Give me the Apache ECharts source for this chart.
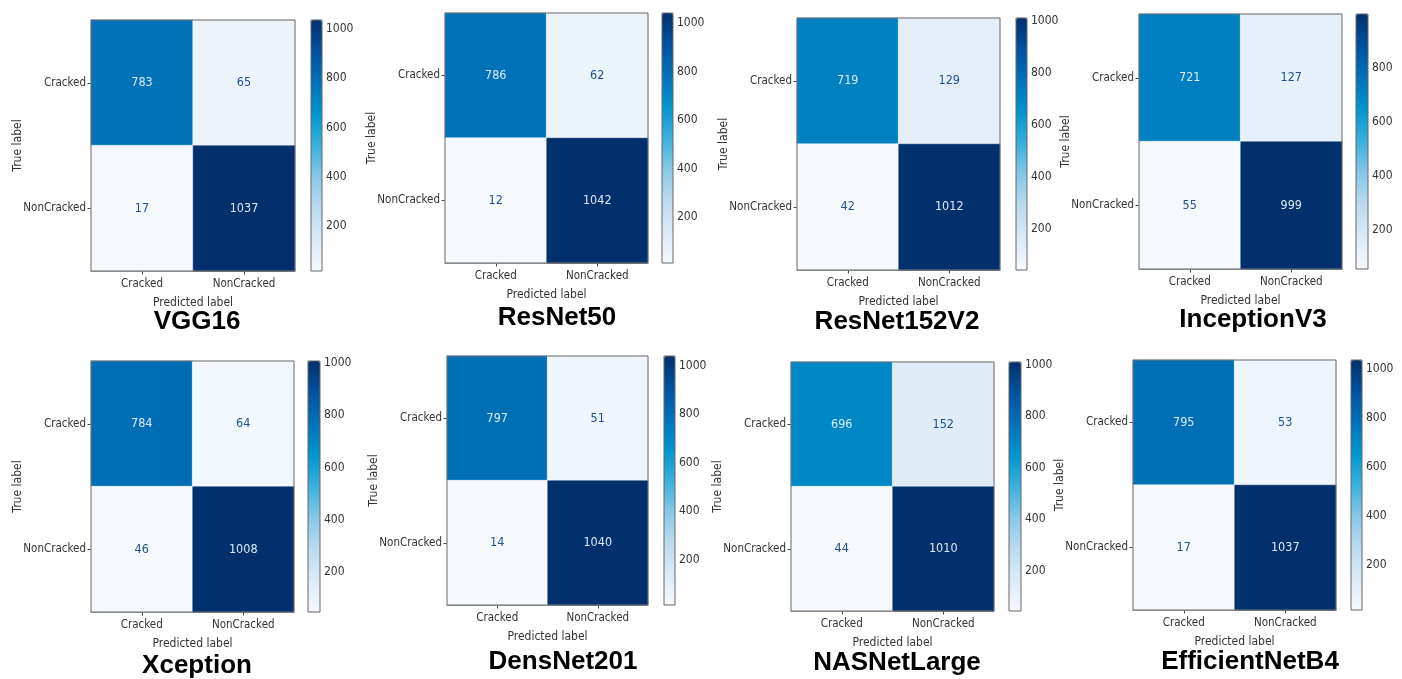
<!DOCTYPE html>
<html><head><meta charset="utf-8">
<script src="https://cdn.jsdelivr.net/npm/echarts@6/dist/echarts.min.js"></script>
<style>html,body{margin:0;padding:0;background:#fff}#c{width:1402px;height:679px}</style>
</head><body><div id="c"></div>
<script>
// ---------- data ----------
const categories = ['Cracked', 'NonCracked'];
const modelNames = ['VGG16', 'ResNet50', 'ResNet152V2', 'InceptionV3', 'Xception', 'DensNet201', 'NASNetLarge', 'EfficientNetB4'];
const vgg16 = [[783, 65], [17, 1037]];
const resnet50 = [[786, 62], [12, 1042]];
const resnet152v2 = [[719, 129], [42, 1012]];
const inceptionv3 = [[721, 127], [55, 999]];
const xception = [[784, 64], [46, 1008]];
const densnet201 = [[797, 51], [14, 1040]];
const nasnetlarge = [[696, 152], [44, 1010]];
const efficientnetb4 = [[795, 53], [17, 1037]];
const colorbarTicks = [200, 400, 600, 800, 1000];
const matrices = [vgg16, resnet50, resnet152v2, inceptionv3, xception, densnet201, nasnetlarge, efficientnetb4];

// ---------- layout (pixel boxes: left, top, right, bottom) ----------
const panels = [
  { m: [91, 20, 295, 271], cb: [311, 20, 322, 271], t: [197, 322] },
  { m: [445, 13, 648, 263], cb: [662, 13, 673, 263], t: [557, 318] },
  { m: [797, 18, 1000, 270], cb: [1016, 18, 1027, 270], t: [897, 322] },
  { m: [1139, 14, 1342, 269], cb: [1356, 14, 1368, 269], t: [1253, 320] },
  { m: [91, 361, 294, 612], cb: [308, 361, 320, 612], t: [197, 666] },
  { m: [447, 356, 648, 605], cb: [664, 356, 675, 605], t: [563, 662] },
  { m: [791, 362, 994, 611], cb: [1009, 362, 1021, 611], t: [897, 663] },
  { m: [1133, 360, 1336, 610], cb: [1351, 360, 1362, 610], t: [1250, 662] }
];

const BLUES = ['#f5f9fe', '#dceaf7', '#bcdbef', '#88c8e6', '#3bb0dc', '#0096cf', '#0072b9', '#0052a0', '#02306c'];
const FONT = "'Liberation Sans Narrow','DejaVu Sans Condensed','Liberation Sans',sans-serif";
const AX = '#666';
const TXT = '#333';

const grid = [], xAxis = [], yAxis = [], series = [], visualMap = [], graphic = [];

matrices.forEach((mat, i) => {
  const p = panels[i];
  const flat = [];
  mat.forEach(r => r.forEach(v => flat.push(v)));
  const vmin = Math.min(...flat), vmax = Math.max(...flat);
  const thresh = (vmin + vmax) / 2;
  const gi = 2 * i, ci = 2 * i + 1;

  grid.push({ left: p.m[0], top: p.m[1], width: p.m[2] - p.m[0], height: p.m[3] - p.m[1],
    show: true, borderColor: AX, borderWidth: 1, backgroundColor: 'transparent', z: 10, containLabel: false });
  grid.push({ left: p.cb[0], top: p.cb[1], width: p.cb[2] - p.cb[0], height: p.cb[3] - p.cb[1],
    show: true, borderColor: AX, borderWidth: 1, backgroundColor: 'transparent', z: 10, containLabel: false });

  xAxis.push({ gridIndex: gi, type: 'category', data: categories, position: 'bottom',
    axisLine: { show: true, lineStyle: { color: AX } },
    axisTick: { show: true, alignWithLabel: true, length: 3.5, lineStyle: { color: '#444' } },
    axisLabel: { fontSize: 11.5, color: TXT, fontFamily: FONT, margin: 7 },
    splitLine: { show: false }, splitArea: { show: false },
    name: 'Predicted label', nameLocation: 'middle', nameGap: 25.5, nameMoveOverlap: false,
    nameTextStyle: { fontSize: 12, color: TXT, fontFamily: FONT } });
  xAxis.push({ gridIndex: ci, type: 'value', show: false });

  yAxis.push({ gridIndex: gi, type: 'category', data: categories, inverse: true,
    axisLine: { show: true, lineStyle: { color: AX } },
    axisTick: { show: true, alignWithLabel: true, length: 3.5, lineStyle: { color: '#444' } },
    axisLabel: { fontSize: 11.5, color: TXT, fontFamily: FONT, margin: 5 },
    splitLine: { show: false }, splitArea: { show: false },
    name: 'True label', nameLocation: 'middle', nameGap: 67, nameMoveOverlap: false,
    nameTextStyle: { fontSize: 12, color: TXT, fontFamily: FONT } });
  const tv = colorbarTicks.filter(v => v >= vmin && v <= vmax);
  yAxis.push({ gridIndex: ci, type: 'value', min: vmin, max: vmax, position: 'right',
    axisLine: { show: false },
    axisTick: { show: true, length: 3, lineStyle: { color: '#444' }, customValues: tv },
    axisLabel: { fontSize: 12, color: TXT, fontFamily: FONT, margin: 4, customValues: tv, formatter: v => String(v) },
    splitLine: { show: false } });

  const data = [];
  mat.forEach((row, r) => row.forEach((v, c) => {
    data.push({ value: [c, r, v], label: { color: v < thresh ? '#1f4f8f' : '#dce9f6' } });
  }));
  series.push({ type: 'heatmap', xAxisIndex: gi, yAxisIndex: gi, data: data,
    itemStyle: { borderColor: 'rgba(255,255,255,0.6)', borderWidth: 0.6 },
    label: { show: true, fontSize: 12.5, fontFamily: FONT, formatter: q => q.value[2] },
    emphasis: { disabled: true } });

  visualMap.push({ type: 'continuous', seriesIndex: i, dimension: 2, min: vmin, max: vmax,
    inRange: { color: BLUES }, calculable: false, orient: 'vertical',
    left: p.cb[0], top: p.cb[1], itemWidth: p.cb[2] - p.cb[0], itemHeight: p.cb[3] - p.cb[1],
    padding: 0, text: null, hoverLink: false, z: 2 });

  graphic.push({ type: 'text', x: p.t[0], y: p.t[1], silent: true,
    style: { text: modelNames[i], fontSize: 26, fontWeight: 'bold', fontFamily: "'Liberation Sans',Arial,sans-serif",
      fill: '#000', align: 'center', verticalAlign: 'middle' } });
});

const chart = echarts.init(document.getElementById('c'), null, { renderer: 'canvas' });
chart.setOption({ animation: false, backgroundColor: '#fff', grid, xAxis, yAxis, series, visualMap, graphic });
</script>
</body></html>
